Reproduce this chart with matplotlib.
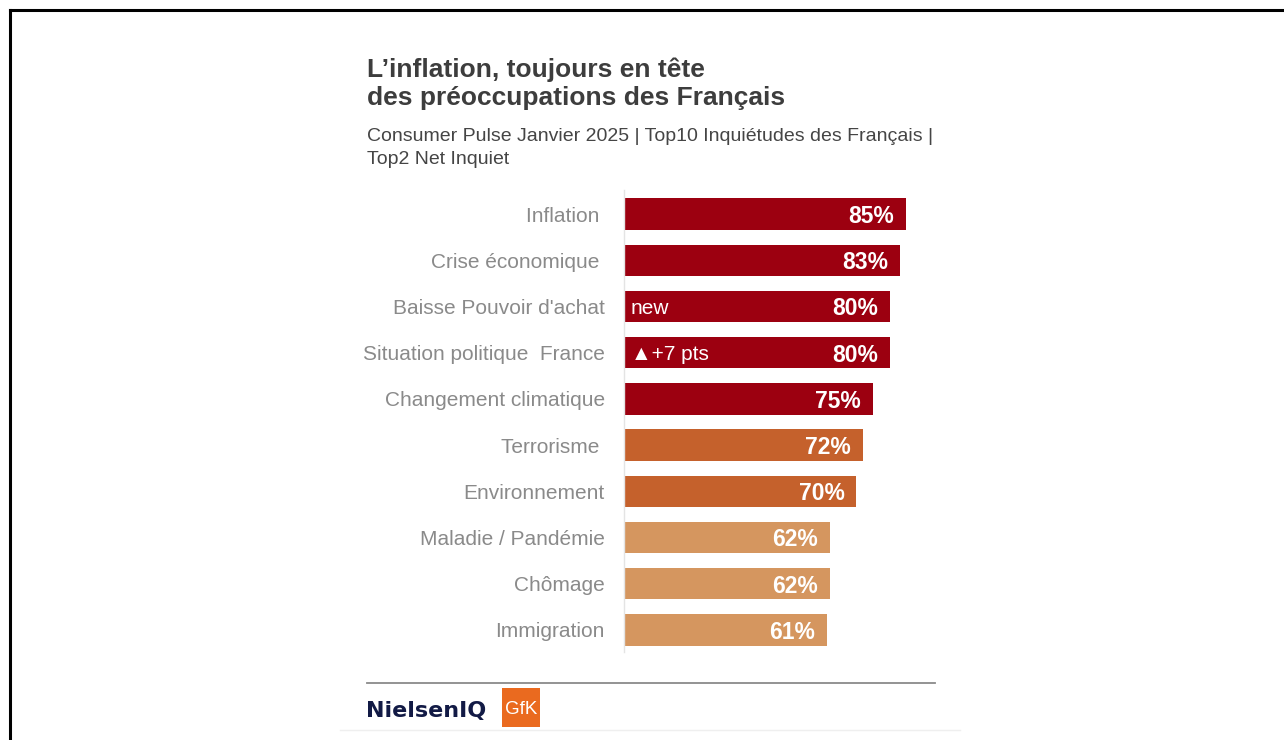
#!/usr/bin/env python3
"""Top-10 worries of the French (Consumer Pulse, Jan 2025) - horizontal bars."""

import matplotlib

matplotlib.use("Agg")
import matplotlib.pyplot as plt
from matplotlib.patches import Rectangle
from matplotlib.lines import Line2D

plt.rcParams["font.family"] = ["Liberation Sans", "DejaVu Sans"]

W, H = 1284, 740          # output size in px (dpi 100)

categories = ["Inflation ", "Crise économique ", "Baisse Pouvoir d'achat",
              "Situation politique  France", "Changement climatique",
              "Terrorisme ", "Environnement", "Maladie / Pandémie",
              "Chômage", "Immigration"]
values = [85, 83, 80, 80, 75, 72, 70, 62, 62, 61]
tiers = ["high", "high", "high", "high", "high", "mid", "mid", "low", "low", "low"]
notes = ["", "", "new", "▲+7 pts", "", "", "", "", "", ""]

TIER_COLORS = {"high": "#9c0010", "mid": "#c5612c", "low": "#d5965f"}


def px(x, y):
    """pixel coords (origin top-left) -> figure fraction"""
    return x / W, 1 - y / H


fig = plt.figure(figsize=(W / 100, H / 100), dpi=100)

# ── titles ──────────────────────────────────────────────────────────────────
fig.text(*px(367, 77), "L’inflation, toujours en tête", fontsize=19,
         fontweight="bold", color="#3d3d3d", va="baseline")
fig.text(*px(367, 105), "des préoccupations des Français", fontsize=19,
         fontweight="bold", color="#3d3d3d", va="baseline")
fig.text(*px(367, 141),
         "Consumer Pulse Janvier 2025 | Top10 Inquiétudes des Français |",
         fontsize=14, color="#454545", va="baseline")
fig.text(*px(367, 164), "Top2 Net Inquiet", fontsize=14, color="#454545",
         va="baseline")

# ── bars ────────────────────────────────────────────────────────────────────
x0, x1, y0, y1 = 624, 956, 190, 652
ax = fig.add_axes([x0 / W, 1 - y1 / H, (x1 - x0) / W, (y1 - y0) / H])
ypos = list(range(len(categories)))
ax.barh(ypos, values, height=0.68,
        color=[TIER_COLORS[t] for t in tiers])
ax.set_xlim(0, 100)
ax.set_ylim(9.48, -0.52)

ax.set_yticks(ypos)
ax.set_yticklabels(categories, fontsize=15, color="#8a8a8a")
ax.tick_params(axis="y", length=0, pad=13.7)
ax.set_xticks([])
for side in ("top", "right", "bottom"):
    ax.spines[side].set_visible(False)
ax.spines["left"].set_color("#e4e4e4")
ax.spines["left"].set_linewidth(1.0)

for yi, v, note in zip(ypos, values, notes):
    ax.annotate(f"{v}%", xy=(v, yi), xytext=(-8.5, 0), textcoords="offset points",
                ha="right", va="center_baseline", fontsize=16.5,
                fontweight="bold", color="white")
    if note:
        ax.annotate(note, xy=(0, yi), xytext=(5, 0), textcoords="offset points",
                    ha="left", va="center_baseline", fontsize=15, color="white")

# ── footer: rule + logos ────────────────────────────────────────────────────
fig.add_artist(Line2D([367 / W, 935 / W], [1 - 683 / H] * 2,
                      color="#8a8a8a", lw=1.3))
fig.add_artist(Line2D([340 / W, 960 / W], [1 - 730 / H] * 2,
                      color="#efefef", lw=1.0))
fig.text(*px(366, 717), "NielsenIQ", family="DejaVu Sans", fontsize=16,
         fontweight="bold", color="#121a45", va="baseline")
gx, gy = px(502, 727)
fig.add_artist(Rectangle((gx, gy), 38 / W, 39 / H, transform=fig.transFigure,
                         facecolor="#ea6a1f", edgecolor="none"))
fig.text(*px(521, 709), "GfK", fontsize=13.5, color="white",
         ha="center", va="center")

# ── black frame (top + left edges) ──────────────────────────────────────────
fig.add_artist(Line2D([10 / W, 1], [1 - 10 / H] * 2, color="black", lw=2.2))
fig.add_artist(Line2D([10 / W] * 2, [1 - 10 / H, 0], color="black", lw=2.2))

fig.savefig("out.png", dpi=100, facecolor="white")
